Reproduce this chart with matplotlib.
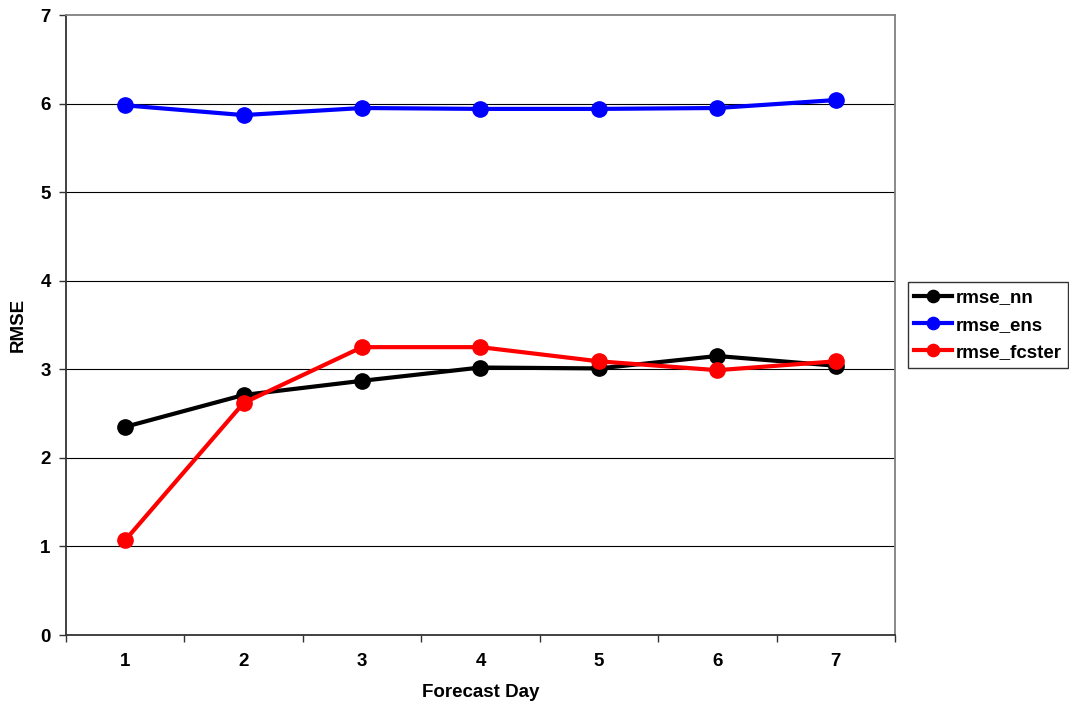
import matplotlib.pyplot as plt
import numpy as np

days = [1, 2, 3, 4, 5, 6, 7]
rmse_nn = [2.35, 2.71, 2.87, 3.02, 3.01, 3.15, 3.04]
rmse_ens = [5.98, 5.87, 5.95, 5.94, 5.94, 5.95, 6.04]
rmse_fcster = [1.07, 2.62, 3.25, 3.25, 3.09, 2.99, 3.09]

plt.rcParams['font.family'] = ['Liberation Sans', 'DejaVu Sans']
plt.rcParams['font.weight'] = 'bold'

fig = plt.figure(figsize=(10.69, 7.08), dpi=100)
ax = fig.add_axes([0.0617, 0.1031, 0.7755, 0.8757])

line_kw = dict(linewidth=3, markersize=11, marker='o')
ax.plot(days, rmse_nn, color='black', label='rmse_nn', **line_kw)
ax.plot(days, rmse_ens, color='#0000ff', label='rmse_ens', **line_kw)
ax.plot(days, rmse_fcster, color='#ff0000', label='rmse_fcster', **line_kw)

ax.set_xlim(0.5, 7.5)
ax.set_ylim(0, 7)
ax.set_yticks(range(0, 8))
ax.set_xticks(days)
ax.set_xticks(np.arange(0.5, 8, 1), minor=True)
ax.tick_params(axis='x', which='major', length=0, pad=13, labelsize=13.5)
ax.tick_params(axis='x', which='minor', length=5, direction='out', width=1, color='#333333')
ax.tick_params(axis='y', length=5, direction='out', width=1, color='#333333', labelsize=13.5, pad=6)
for t in ax.get_xticklabels() + ax.get_yticklabels():
    t.set_fontweight('bold')

for y in range(1, 7):
    ax.axhline(y, color='black', linewidth=0.8, zorder=0)

ax.spines['left'].set_color('#333333')
ax.spines['bottom'].set_color('#333333')
ax.spines['top'].set_color('#808080')
ax.spines['right'].set_color('#808080')
for s in ax.spines.values():
    s.set_linewidth(1.3)

ax.set_xlabel('Forecast Day', fontsize=13.5, fontweight='bold', labelpad=10)
ax.set_ylabel('RMSE', fontsize=13.5, fontweight='bold', labelpad=10)

leg = fig.legend(loc='upper left', bbox_to_anchor=(0.849, 0.601), fontsize=13.5,
                 frameon=True, fancybox=False, edgecolor='black', handlelength=2.0,
                 handletextpad=0.2, borderpad=0.35, labelspacing=0.55, borderaxespad=0,
                 markerscale=0.8)
leg.get_frame().set_linewidth(1)

fig.savefig('out.png', dpi=100)
